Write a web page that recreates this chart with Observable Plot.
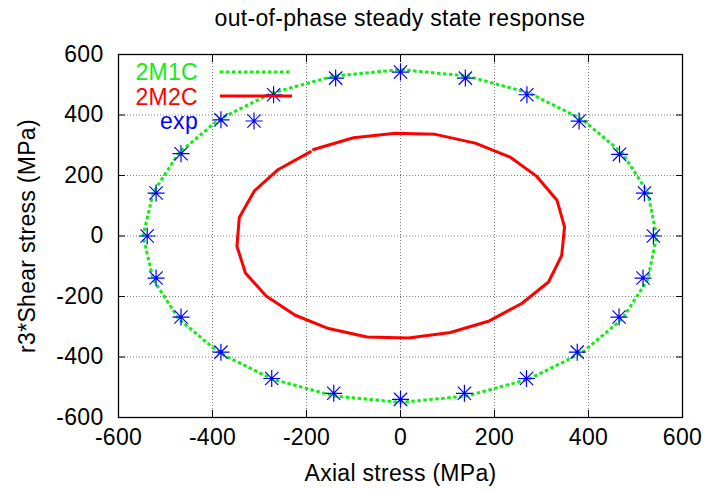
<!DOCTYPE html>
<html><head><meta charset="utf-8">
<script src="https://cdn.jsdelivr.net/npm/d3@7"></script>
<script src="https://cdn.jsdelivr.net/npm/@observablehq/plot@0.6"></script>
<style>
body{margin:0;background:#fff;font-family:"Liberation Sans",Arial,sans-serif;}
#wrap{position:relative;width:707px;height:490px;}
#title{height:36px;line-height:36px;margin-left:93px;width:614px;text-align:center;font-size:23px;letter-spacing:0.3px;color:#000;}
#legend{position:absolute;left:0;top:0;}
</style></head><body>
<div id="wrap"><div id="title">out-of-phase steady state response</div><div id="chart"></div><svg id="legend" width="707" height="150"></svg></div>
<script>
const xTicks = [-600,-400,-200,0,200,400,600];
const yTicks = [-600,-400,-200,0,200,400,600];
const xLabel = "Axial stress (MPa)";
const yLabel = "r3*Shear stress (MPa)";
const seriesNames = ["2M1C","2M2C","exp"];
const seriesColors = ["#11ee11","#ff0000","#0000ff"];

// 2M1C (green dashed)
const m1cX = [545,526,472,386,273,141,0,-141,-273,-386,-472,-526,-548,-526,-472,-386,-273,-141,0,141,273,386,472,526,545];
const m1cY = [0,144,274,386,473,529,550,529,473,386,274,144,0,-144,-274,-386,-473,-529,-550,-529,-473,-386,-274,-144,0];

// 2M2C (red solid)
const m2cX = [-185,-100,-11,74,159,233,290,333,349,343,315,258,187,106,17,-71,-153,-224,-286,-330,-348,-343,-311,-260,-192];
const m2cY = [286,325,340,336,307,261,197,118,30,-64,-152,-223,-282,-319,-337,-334,-306,-262,-198,-122,-34,61,149,220,278];

// exp (stars)
const expX = [538,519,466,380,269,138,0,-138,-270,-382,-467,-520,-539,-520,-467,-382,-274,-142,0,136,268,376,465,516];
const expY = [0,142,270,380,467,522,542,522,467,384,272,142,0,-139,-268,-384,-471,-520,-540,-520,-471,-384,-268,-139];

const m1c = m1cX.map((x,i)=>({x, y:m1cY[i]}));
const m2c = m2cX.map((x,i)=>({x, y:m2cY[i]}));
const exp = expX.map((x,i)=>({x, y:expY[i]}));

const star8 = {draw(ctx, size){
  const r = Math.sqrt(size/Math.PI), d = r*0.78;
  ctx.moveTo(-r,0); ctx.lineTo(r,0);
  ctx.moveTo(0,-r); ctx.lineTo(0,r);
  ctx.moveTo(-d,-d); ctx.lineTo(d,d);
  ctx.moveTo(-d,d); ctx.lineTo(d,-d);
}};

const fmt = d => String(d);
const gridStyle = {stroke:"#777", strokeOpacity:1, strokeDasharray:"1,2", strokeWidth:1};
const fontFam = "'Liberation Sans', Arial, sans-serif";

const chart = Plot.plot({
  width:707, height:454,
  marginTop:18, marginBottom:73, marginLeft:118, marginRight:25,
  style:{fontFamily:fontFam, fontSize:"23px", letterSpacing:"0.3px", background:"white", color:"black", overflow:"visible"},
  x:{domain:[-600,600]},
  y:{domain:[-600,600]},
  marks:[
    Plot.gridX(xTicks, gridStyle),
    Plot.gridY(yTicks, gridStyle),
    Plot.axisX(xTicks, {anchor:"bottom", tickSize:0, tickPadding:11, tickFormat:fmt, label:xLabel, labelAnchor:"center", labelArrow:"none", labelOffset:63, fontSize:23}),
    Plot.axisY(yTicks, {anchor:"left", tickSize:0, tickPadding:15, tickFormat:fmt, label:yLabel, labelAnchor:"center", labelArrow:"none", labelOffset:100, fontSize:23}),
    Plot.axisX(xTicks, {anchor:"bottom", tickSize:-7, tickFormat:()=>"", label:null}),
    Plot.axisX(xTicks, {anchor:"top", tickSize:-7, tickFormat:()=>"", label:null}),
    Plot.axisY(yTicks, {anchor:"left", tickSize:-7, tickFormat:()=>"", label:null}),
    Plot.axisY(yTicks, {anchor:"right", tickSize:-7, tickFormat:()=>"", label:null}),
    Plot.line(m2c, {x:"x", y:"y", stroke:seriesColors[1], strokeWidth:3}),
    Plot.line(m1c, {x:"x", y:"y", stroke:seriesColors[0], strokeWidth:3, strokeDasharray:"3.5,2.5", strokeLinecap:"butt"}),
    Plot.dot(exp, {x:"x", y:"y", symbol:star8, r:8.5, stroke:seriesColors[2], strokeWidth:1.2, fill:"none"}),
    Plot.frame({stroke:"black", strokeWidth:1.3})
  ]
});
document.getElementById("chart").appendChild(chart);

// legend
const lg = d3.select("#legend");
const rowsY = [72,97,121];
seriesNames.forEach((name,i)=>{
  lg.append("text").attr("x",198).attr("y",rowsY[i]).attr("dy","0.36em")
    .attr("text-anchor","end").attr("fill",seriesColors[i])
    .style("font-size","23px").style("letter-spacing","0.3px")
    .style("font-family",fontFam).text(name);
});
lg.append("line").attr("x1",220).attr("x2",292).attr("y1",72).attr("y2",72)
  .attr("stroke",seriesColors[0]).attr("stroke-width",3).attr("stroke-dasharray","3.5,2.5");
lg.append("line").attr("x1",220).attr("x2",292).attr("y1",96).attr("y2",96)
  .attr("stroke",seriesColors[1]).attr("stroke-width",3);
lg.append("path").attr("transform","translate(254,121)")
  .attr("d", d3.symbol(star8, Math.PI*8.5*8.5)())
  .attr("stroke",seriesColors[2]).attr("stroke-width",1.2).attr("fill","none");
</script>
</body></html>
